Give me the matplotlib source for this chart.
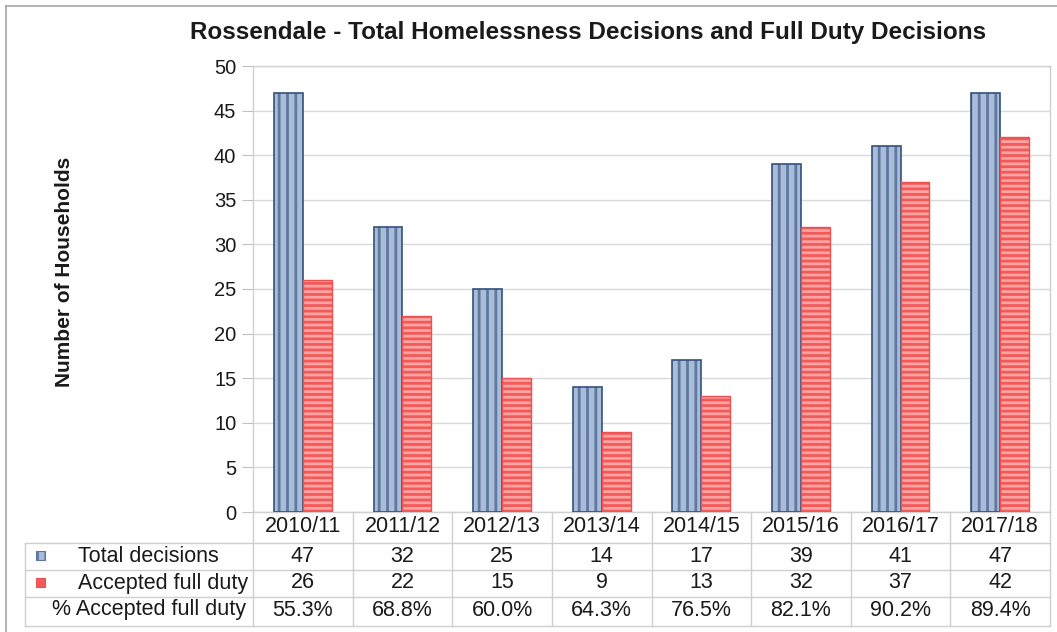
import numpy as np
import matplotlib.pyplot as plt
from matplotlib.transforms import blended_transform_factory
from matplotlib.patches import Rectangle

plt.rcParams['font.family'] = ['Liberation Sans', 'DejaVu Sans']
plt.rcParams['hatch.linewidth'] = 2.0

years = ['2010/11', '2011/12', '2012/13', '2013/14', '2014/15', '2015/16', '2016/17', '2017/18']
total_decisions = [47, 32, 25, 14, 17, 39, 41, 47]
accepted_full_duty = [26, 22, 15, 9, 13, 32, 37, 42]
pct_accepted = ['55.3%', '68.8%', '60.0%', '64.3%', '76.5%', '82.1%', '90.2%', '89.4%']
row_labels = ['Total decisions', 'Accepted full duty', '% Accepted full duty']

W, H = 1057, 632
fig = plt.figure(figsize=(W / 100, H / 100), dpi=100)

def fx(px):
    return px / W

def fy(py):
    return 1 - py / H

ax = fig.add_axes([fx(253), fy(512), fx(1050) - fx(253), fy(66) - fy(512)])

x = np.arange(len(years))
w = 0.29
blue_face = '#A9BCD8'
blue_stripe = '#5E789F'
blue_edge = '#34507C'
red_face = '#F25A5A'
red_stripe = '#FFA3A3'
red_edge = '#EC5050'

# stripes first, then outline on top
ax.bar(x - w / 2, total_decisions, w, color=blue_face, edgecolor=blue_stripe, hatch='||', linewidth=0, zorder=3)
ax.bar(x - w / 2, total_decisions, w, fill=False, edgecolor=blue_edge, linewidth=1.2, zorder=4)
ax.bar(x + w / 2, accepted_full_duty, w, color=red_face, edgecolor=red_stripe, hatch='---', linewidth=0, zorder=3)
ax.bar(x + w / 2, accepted_full_duty, w, fill=False, edgecolor=red_edge, linewidth=1.0, zorder=4)

ax.set_xlim(-0.5, len(years) - 0.5)
ax.set_ylim(0, 50)
ax.set_yticks(np.arange(0, 51, 5))
ax.tick_params(axis='y', labelsize=14.5, length=8, color='#BFBFBF', pad=4, labelcolor='#1A1A1A')
ax.set_xticks([])
ax.grid(axis='y', color='#D9D9D9', linewidth=1.0, zorder=0)
ax.set_axisbelow(True)
for s in ax.spines.values():
    s.set_color('#D0D0D0')
    s.set_linewidth(1.0)

fig.text(fx(588), fy(33), 'Rossendale - Total Homelessness Decisions and Full Duty Decisions',
         ha='center', va='center', fontsize=17.5, fontweight='bold', color='#1A1A1A')
fig.text(fx(65), fy(272), 'Number of Households', rotation=90, ha='center', va='center',
         fontsize=15, fontweight='bold', color='#1A1A1A')

# data table under the axis
tr = blended_transform_factory(ax.transData, fig.transFigure)
line_c = '#CFCFCF'
row_lines = [543, 570, 597, 626]
for py in row_lines:
    fig.add_artist(plt.Line2D([fx(25), fx(1050)], [fy(py), fy(py)], color=line_c, lw=1.0))
fig.add_artist(plt.Line2D([fx(25), fx(25)], [fy(543), fy(626)], color=line_c, lw=1.0))
for b in np.arange(-0.5, len(years)):
    ax.add_artist(plt.Line2D([b, b], [fy(512), fy(626)], transform=tr, color=line_c, lw=1.0, clip_on=False))

fs = 15.5
for i, yr in enumerate(years):
    ax.text(i, fy(527), yr, transform=tr, ha='center', va='center', fontsize=fs, color='#1A1A1A')
    ax.text(i, fy(556), str(total_decisions[i]), transform=tr, ha='center', va='center', fontsize=fs, color='#1A1A1A')
    ax.text(i, fy(583), str(accepted_full_duty[i]), transform=tr, ha='center', va='center', fontsize=fs, color='#1A1A1A')
    ax.text(i, fy(610), pct_accepted[i], transform=tr, ha='center', va='center', fontsize=fs, color='#1A1A1A')

fig.text(fx(78), fy(556), row_labels[0], ha='left', va='center', fontsize=fs, color='#1A1A1A')
fig.text(fx(78), fy(583), row_labels[1], ha='left', va='center', fontsize=fs, color='#1A1A1A')
fig.text(fx(52), fy(610), row_labels[2], ha='left', va='center', fontsize=fs, color='#1A1A1A')

# legend keys
fig.add_artist(Rectangle((fx(36), fy(560)), fx(9), fy(551) - fy(560), facecolor=blue_face,
                         edgecolor=blue_stripe, hatch='||', lw=0.8))
fig.add_artist(Rectangle((fx(36), fy(587)), fx(9), fy(578) - fy(587), facecolor=red_face,
                         edgecolor=red_edge, lw=0.8))

# outer chart border
fig.add_artist(plt.Line2D([fx(6), fx(6)], [fy(6), 0], color='#A6A6A6', lw=1.2))
fig.add_artist(plt.Line2D([fx(6), 1], [fy(6), fy(6)], color='#A6A6A6', lw=1.2))

fig.savefig('out.png', dpi=100)
